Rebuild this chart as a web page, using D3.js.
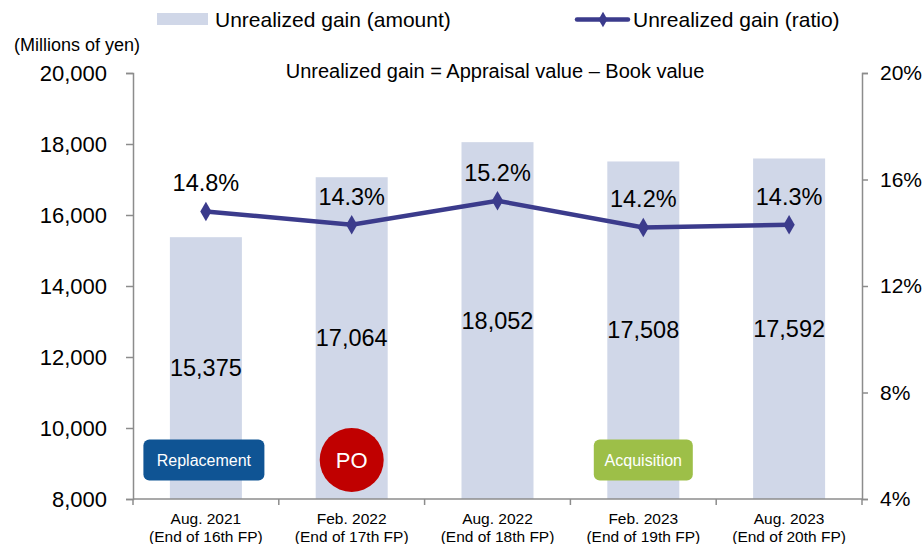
<!DOCTYPE html>
<html lang="en">
<head>
    <meta charset="UTF-8">
    <title>Unrealized gain</title>
    <script src="https://cdn.jsdelivr.net/npm/d3@7"></script>
    <style>
        body { margin: 0; background: #fff; }
        #chart { width: 922px; height: 544px; }
        text { font-family: Arial, "Liberation Sans", sans-serif; fill: #000; }
        .axis path, .axis line { stroke: #8c8c8c; stroke-width: 1.5px; }
    </style>
</head>
<body>
<div id="chart"></div>
<script>
    // data
    const periods = ["Aug. 2021", "Feb. 2022", "Aug. 2022", "Feb. 2023", "Aug. 2023"];
    const fpLabels = ["(End of 16th FP)", "(End of 17th FP)", "(End of 18th FP)", "(End of 19th FP)", "(End of 20th FP)"];
    const gainAmount = [15375, 17064, 18052, 17508, 17592];
    const gainRatio = [14.8, 14.3, 15.2, 14.2, 14.3];
    const leftTicks = [8000, 10000, 12000, 14000, 16000, 18000, 20000];
    const rightTicks = [4, 8, 12, 16, 20];
    // event badges: [period index, label, kind]
    const badges = [[0, "Replacement", "rect"], [1, "PO", "circle"], [3, "Acquisition", "rect"]];

    let draw = () => {
        let svg = d3.select("#chart").append("svg")
            .attr("width", 922)
            .attr("height", 544);

        let padding = { top: 73, left: 133, bottom: 45, right: 60 };
        let width = 922 - padding.left - padding.right;
        let height = 544 - padding.top - padding.bottom;

        let g = svg.append("g")
            .attr("transform", "translate(" + padding.left + "," + padding.top + ")");

        let x = d3.scaleBand().domain(periods).range([0, width]);
        let y = d3.scaleLinear().domain([8000, 20000]).range([height, 0]);
        let y2 = d3.scaleLinear().domain([4, 20]).range([height, 0]);

        let barW = 72;

        // bars
        g.selectAll(".bar")
            .data(gainAmount)
            .enter().append("rect")
            .attr("class", "bar")
            .attr("x", (d, i) => x(periods[i]) + x.bandwidth() / 2 - barW / 2)
            .attr("width", barW)
            .attr("y", d => y(d))
            .attr("height", d => height - y(d))
            .attr("fill", "#d0d7e8");

        // bar labels (centred inside bar)
        g.selectAll(".barlabel")
            .data(gainAmount)
            .enter().append("text")
            .attr("x", (d, i) => x(periods[i]) + x.bandwidth() / 2)
            .attr("y", d => (y(d) + height) / 2 + 8)
            .attr("text-anchor", "middle")
            .style("font-size", "23.5px")
            .text(d => d3.format(",")(d));

        // axes
        let yAxis = d3.axisLeft(y).tickValues(leftTicks).tickFormat(d3.format(",")).tickSizeOuter(0).tickSize(7).tickPadding(19);
        g.append("g").attr("class", "axis").call(yAxis)
            .selectAll("text").style("font-size", "22px");

        let y2Axis = d3.axisRight(y2).tickValues(rightTicks).tickFormat(d => d + "%").tickSizeOuter(0).tickSize(6).tickPadding(12);
        g.append("g").attr("class", "axis")
            .attr("transform", "translate(" + width + ",0)")
            .call(y2Axis)
            .selectAll("text").style("font-size", "21px");

        // x axis: baseline with boundary ticks
        let xAxisG = g.append("g").attr("class", "axis")
            .attr("transform", "translate(0," + height + ")");
        xAxisG.append("line").attr("x1", 0).attr("x2", width).attr("y1", 0).attr("y2", 0);
        xAxisG.selectAll(".bt")
            .data(periods.concat([null]))
            .enter().append("line")
            .attr("x1", (d, i) => i * x.step())
            .attr("x2", (d, i) => i * x.step())
            .attr("y1", 0).attr("y2", 6);
        let xl = xAxisG.selectAll(".xl")
            .data(periods)
            .enter().append("text")
            .attr("text-anchor", "middle")
            .style("font-size", "15.5px");
        xl.append("tspan")
            .attr("x", d => x(d) + x.bandwidth() / 2)
            .attr("y", 25)
            .text(d => d);
        xl.append("tspan")
            .attr("x", d => x(d) + x.bandwidth() / 2)
            .attr("y", 43)
            .text((d, i) => fpLabels[i]);

        // line
        let line = d3.line()
            .x((d, i) => x(periods[i]) + x.bandwidth() / 2)
            .y(d => y2(d));
        g.append("path")
            .datum(gainRatio)
            .attr("d", line)
            .attr("fill", "none")
            .attr("stroke", "#3b3b8c")
            .attr("stroke-width", 4.5);

        let diamond = d3.symbol().type(d3.symbolDiamond).size(110);
        g.selectAll(".pt")
            .data(gainRatio)
            .enter().append("path")
            .attr("d", diamond)
            .attr("transform", (d, i) => "translate(" + (x(periods[i]) + x.bandwidth() / 2) + "," + y2(d) + ")")
            .attr("fill", "#3b3b8c");

        g.selectAll(".ptlabel")
            .data(gainRatio)
            .enter().append("text")
            .attr("x", (d, i) => x(periods[i]) + x.bandwidth() / 2)
            .attr("y", d => y2(d) - 20)
            .attr("text-anchor", "middle")
            .style("font-size", "23.5px")
            .text(d => d.toFixed(1) + "%");

        // badges
        let badgeY = y(9100);
        badges.forEach(b => {
            let cx = x(periods[b[0]]) + x.bandwidth() / 2;
            let bg = g.append("g");
            if (b[2] === "circle") {
                bg.append("circle").attr("cx", cx).attr("cy", badgeY).attr("r", 32).attr("fill", "#c00000");
                bg.append("text").attr("x", cx).attr("y", badgeY + 8)
                    .attr("text-anchor", "middle").style("font-size", "22px").style("fill", "#fff").text(b[1]);
            } else {
                let w = b[1] === "Replacement" ? 121 : 99;
                let off = b[1] === "Replacement" ? -2 : 0;
                bg.append("rect").attr("x", cx - w / 2 + off).attr("y", badgeY - 20.5)
                    .attr("width", w).attr("height", 41).attr("rx", 6)
                    .attr("fill", b[1] === "Replacement" ? "#0f5494" : "#9dbf48");
                bg.append("text").attr("x", cx + off).attr("y", badgeY + 6)
                    .attr("text-anchor", "middle").style("font-size", "16px").style("fill", "#fff").text(b[1]);
            }
        });

        // titles
        svg.append("text").attr("x", 14).attr("y", 51).style("font-size", "18px").text("(Millions of yen)");
        svg.append("text").attr("x", 495).attr("y", 78).attr("text-anchor", "middle")
            .style("font-size", "20px").text("Unrealized gain = Appraisal value \u2013 Book value");

        // legend
        svg.append("rect").attr("x", 157).attr("y", 13).attr("width", 51).attr("height", 12).attr("fill", "#d0d7e8");
        svg.append("text").attr("x", 215).attr("y", 27).style("font-size", "21px").text("Unrealized gain (amount)");
        svg.append("line").attr("x1", 577).attr("x2", 628).attr("y1", 19.5).attr("y2", 19.5)
            .attr("stroke", "#3b3b8c").attr("stroke-width", 4.5).attr("stroke-linecap", "round");
        svg.append("path").attr("d", d3.symbol().type(d3.symbolDiamond).size(70))
            .attr("transform", "translate(603,19.5)").attr("fill", "#3b3b8c");
        svg.append("text").attr("x", 633).attr("y", 27).style("font-size", "21px").text("Unrealized gain (ratio)");
    }

    draw();
</script>
</body>
</html>
